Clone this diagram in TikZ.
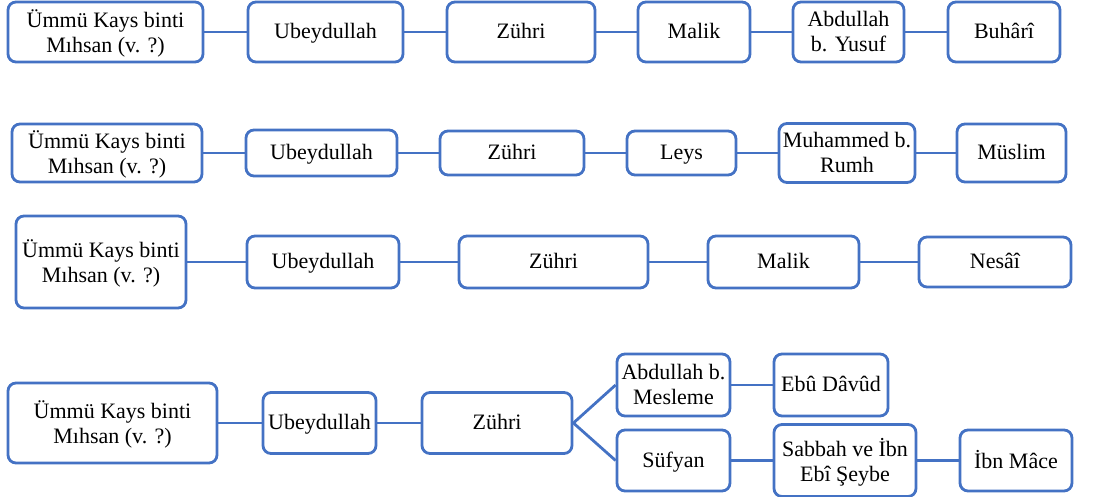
\documentclass[tikz,border=0pt]{standalone}
\usepackage{fontspec}
\setmainfont{Liberation Serif}
\usepackage{tikz}
\usetikzlibrary{positioning}
\usepackage{xcolor}
\definecolor{isnadblue}{HTML}{4472C4}
\tikzset{
  ravi/.style={
    rectangle, draw=isnadblue, fill=white, rounded corners=4pt,
    font=\fontsize{11}{12.5}\selectfont, align=center, text=black,
    inner xsep=1pt, inner ysep=0pt, text depth=1pt, line width=1.4pt
  },
  link/.style={draw=isnadblue, line width=1.4pt},
}
\begin{document}
\begin{tikzpicture}[x=0.5pt, y=-0.5pt]
\useasboundingbox (0,0) rectangle (1113,497);

% Row 1
\node[ravi, minimum width=97.5pt, minimum height=30pt] (r1a) at (105.5, 32) {Ümmü Kays binti\\Mıhsan (v. ?)};
\node[ravi, minimum width=77.5pt, minimum height=30pt] (r1b) at (325.5, 32) {Ubeydullah};
\node[ravi, minimum width=74pt, minimum height=30pt] (r1c) at (521, 32) {Zühri};
\node[ravi, minimum width=56pt, minimum height=30pt] (r1d) at (694, 32) {Malik};
\node[ravi, minimum width=55.5pt, minimum height=30pt] (r1e) at (848.5, 32) {Abdullah\\b. Yusuf};
\node[ravi, minimum width=56pt, minimum height=30pt] (r1f) at (1004, 32) {Buhârî};
\draw[link] (r1a) -- (r1b) (r1b) -- (r1c) (r1c) -- (r1d) (r1d) -- (r1e) (r1e) -- (r1f);

% Row 2
\node[ravi, minimum width=95pt, minimum height=29pt] (r2a) at (107, 153) {Ümmü Kays binti\\Mıhsan (v. ?)};
\node[ravi, minimum width=75.5pt, minimum height=23pt] (r2b) at (321.5, 153) {Ubeydullah};
\node[ravi, minimum width=72pt, minimum height=22pt] (r2c) at (512, 153) {Zühri};
\node[ravi, minimum width=54.5pt, minimum height=22pt] (r2d) at (681.5, 153) {Leys};
\node[ravi, minimum width=68pt, minimum height=29.5pt] (r2e) at (847, 153) {Muhammed b.\\Rumh};
\node[ravi, minimum width=54.5pt, minimum height=29pt] (r2f) at (1011.5, 153) {Müslim};
\draw[link] (r2a) -- (r2b) (r2b) -- (r2c) (r2c) -- (r2d) (r2d) -- (r2e) (r2e) -- (r2f);

% Row 3
\node[ravi, minimum width=85pt, minimum height=46pt] (r3a) at (101, 262) {Ümmü Kays binti\\Mıhsan (v. ?)};
\node[ravi, minimum width=76pt, minimum height=26pt] (r3b) at (323, 262) {Ubeydullah};
\node[ravi, minimum width=94.5pt, minimum height=26pt] (r3c) at (553.5, 262) {Zühri};
\node[ravi, minimum width=75.5pt, minimum height=26pt] (r3d) at (783.5, 262) {Malik};
\node[ravi, minimum width=76pt, minimum height=25pt] (r3e) at (995, 262) {Nesâî};
\draw[link] (r3a) -- (r3b) (r3b) -- (r3c) (r3c) -- (r3d) (r3d) -- (r3e);

% Row 4
\node[ravi, minimum width=104.5pt, minimum height=40pt] (r4a) at (112.5, 423) {Ümmü Kays binti\\Mıhsan (v. ?)};
\node[ravi, minimum width=56.5pt, minimum height=30.5pt] (r4b) at (319.5, 423) {Ubeydullah};
\node[ravi, minimum width=75pt, minimum height=30.5pt] (r4c) at (497, 423) {Zühri};
\node[ravi, minimum width=56.5pt, minimum height=31pt] (r4d) at (673.5, 385) {Abdullah b.\\Mesleme};
\node[ravi, minimum width=57pt, minimum height=31pt] (r4e) at (831, 385) {Ebû Dâvûd};
\node[ravi, minimum width=56.5pt, minimum height=30.5pt] (r4f) at (673.5, 460.5) {Süfyan};
\node[ravi, minimum width=71pt, minimum height=36pt] (r4g) at (845, 460.5) {Sabbah ve İbn\\Ebî Şeybe};
\node[ravi, minimum width=56pt, minimum height=30.5pt] (r4h) at (1016, 460.5) {İbn Mâce};
\draw[link] (r4a) -- (r4b) (r4b) -- (r4c);
\draw[link] (r4c.east) -- (r4d.west) (r4c.east) -- (r4f.west);
\draw[link] (r4d) -- (r4e) (r4f) -- (r4g) (r4g) -- (r4h);

\end{tikzpicture}
\end{document}
